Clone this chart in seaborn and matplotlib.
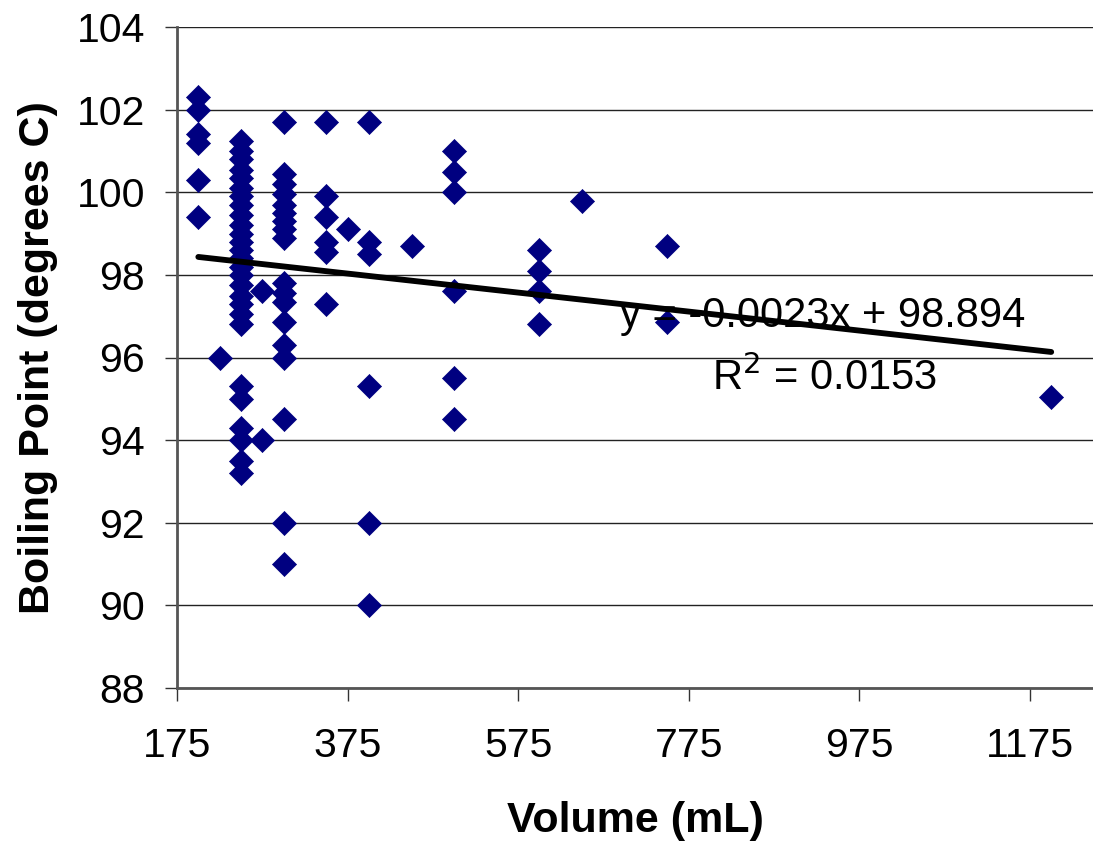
import numpy as np
import pandas as pd
import matplotlib
matplotlib.use('Agg')
import matplotlib.pyplot as plt
import seaborn as sns

# volume (mL) and boiling point (degrees C)
volume_200 = [102.3, 102.0, 101.4, 101.2, 100.3, 99.4]
volume_225 = [96.0]
volume_250 = [101.25, 101.0, 100.8, 100.55, 100.35, 100.1, 99.9, 99.7, 99.45,
              99.2, 99.0, 98.8, 98.6, 98.4, 98.2, 98.0, 97.75, 97.5, 97.3,
              97.05, 96.8, 95.3, 95.0, 94.3, 94.0, 93.5, 93.2]
volume_275 = [97.6, 94.0]
volume_300 = [101.7, 100.45, 100.2, 99.95, 99.7, 99.5, 99.3, 99.1, 98.9,
              97.8, 97.55, 97.35, 96.85, 96.3, 96.0, 94.5, 92.0, 91.0]
volume_350 = [101.7, 99.9, 99.4, 98.8, 98.55, 97.3]
volume_375 = [99.1]
volume_400 = [101.7, 98.8, 98.5, 95.3, 92.0, 90.0]
volume_450 = [98.7]
volume_500 = [101.0, 100.5, 100.0, 97.6, 95.5, 94.5]
volume_600 = [98.6, 98.1, 97.6, 96.8]
volume_650 = [99.8]
volume_750 = [98.7, 96.85]
volume_1200 = [95.05]

columns = {
    200: volume_200, 225: volume_225, 250: volume_250, 275: volume_275,
    300: volume_300, 350: volume_350, 375: volume_375, 400: volume_400,
    450: volume_450, 500: volume_500, 600: volume_600, 650: volume_650,
    750: volume_750, 1200: volume_1200,
}

# trendline as printed on the chart
slope = -0.0023
intercept = 98.894
r_squared = 0.0153

x_ticks = [175, 375, 575, 775, 975, 1175]
y_ticks = [88, 90, 92, 94, 96, 98, 100, 102, 104]

rows = [(v, bp) for v, bps in columns.items() for bp in bps]
df = pd.DataFrame(rows, columns=['volume', 'boiling'])

sns.set_style('white')
plt.rcParams['font.family'] = ['Liberation Sans', 'DejaVu Sans']
plt.rcParams['text.color'] = 'black'
plt.rcParams['axes.labelcolor'] = 'black'
plt.rcParams['xtick.color'] = 'black'
plt.rcParams['ytick.color'] = 'black'

fig = plt.figure(figsize=(10.93, 8.44), dpi=100)
ax = fig.add_axes([177 / 1093, 1 - 688 / 844, 1 - 177 / 1093, (688 - 27) / 844])

for y in y_ticks:
    ax.axhline(y, color='#222222', lw=1.0, zorder=0)

sns.scatterplot(data=df, x='volume', y='boiling', marker='D', s=150,
                color='#000080', edgecolor='#000080', linewidth=0.5, ax=ax,
                zorder=3)

xs = np.array([df['volume'].min(), df['volume'].max()])
ax.plot(xs, slope * xs + intercept, color='black', lw=4.2, zorder=4,
        solid_capstyle='round')

ax.set_xlim(175, 1249)
ax.set_ylim(88, 104)
ax.set_xticks(x_ticks)
ax.set_yticks(y_ticks)
ax.tick_params(axis='both', labelsize=29.5, length=9, width=1, color='#333333',
               labelcolor='black', direction='out', bottom=True, left=True)
ax.tick_params(axis='x', pad=19)
ax.tick_params(axis='y', pad=14)

for side in ['top', 'right']:
    ax.spines[side].set_visible(False)
for side in ['left', 'bottom']:
    ax.spines[side].set_color('#555555')
    ax.spines[side].set_linewidth(2.0)

ax.set_xlabel('Volume (mL)', fontsize=31, fontweight='bold', labelpad=26)
ax.set_ylabel('Boiling Point (degrees C)', fontsize=31, fontweight='bold',
              labelpad=13)

ax.text(823 / 1093, 1 - 316 / 844, f'y = {slope}x + {intercept}',
        transform=fig.transFigure, ha='center', va='center', fontsize=30,
        zorder=5)
ax.text(825 / 1093, 1 - 378 / 844, f'R$^2$ = {r_squared}',
        transform=fig.transFigure, ha='center', va='center', fontsize=30,
        zorder=5)

fig.savefig('out.png', dpi=100)
